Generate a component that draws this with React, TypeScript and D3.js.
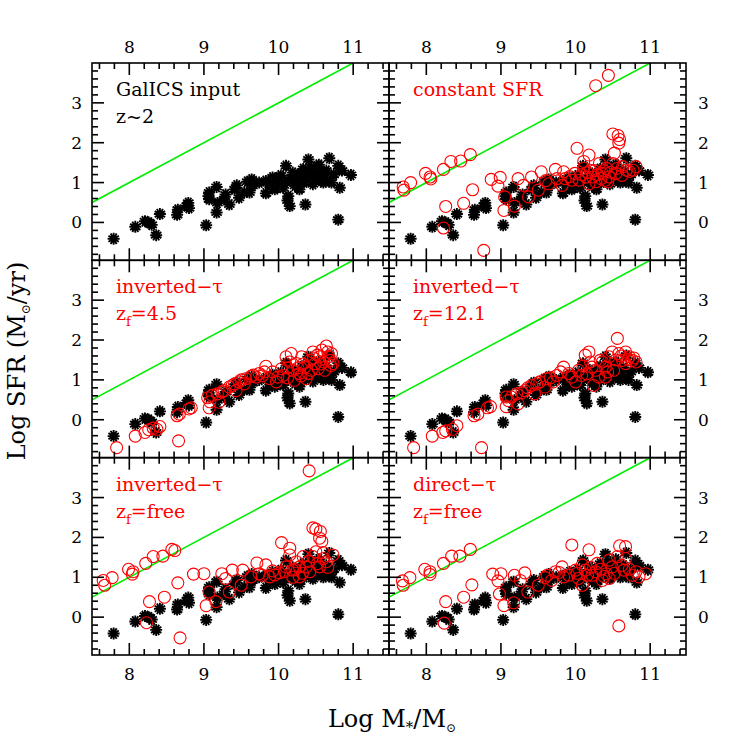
import React from 'react';
import * as d3 from 'd3';

// GalICS input (black asterisks), [log M*, log SFR]
const galicsInput: [number, number][] = [
  [7.79, -0.41], [8.08, -0.11], [8.21, 0.03], [8.26, 0.0], [8.30, -0.06], [8.36, -0.32],
  [8.41, 0.21], [8.64, 0.19], [8.65, 0.32], [8.79, 0.49], [8.80, 0.36], [8.77, 0.42],
  [9.03, -0.07], [9.06, 0.66], [9.07, 0.75], [9.17, 0.89], [9.18, 0.49], [9.17, 0.25],
  [9.29, 0.70], [9.34, 0.45], [9.41, 0.83], [9.44, 0.93], [9.47, 0.62], [9.61, 0.75],
  [9.64, 1.08], [9.74, 1.0], [9.83, 0.73], [9.83, 1.04], [9.95, 0.83], [9.99, 1.08],
  [10.06, 0.87], [10.10, 1.42], [10.13, 0.66], [10.15, 0.41], [10.15, 1.08], [10.19, 1.25],
  [10.22, 0.92], [10.28, 1.08], [10.33, 1.34], [10.36, 0.45], [10.40, 1.58], [10.42, 1.25],
  [10.46, 1.17], [10.51, 1.08], [10.60, 1.0], [10.64, 1.30], [10.68, 1.61], [10.71, 1.0],
  [10.80, 1.42], [10.80, 0.07], [10.82, 0.87], [10.85, 1.30], [10.97, 1.19], [10.01, 0.96],
  [10.24, 1.17], [10.38, 1.17], [10.56, 1.13], [9.92, 1.13], [9.65, 0.92], [9.54, 0.75],
  [9.27, 0.58], [9.07, 0.58], [10.28, 0.83], [10.46, 0.96], [10.08, 1.0], [10.60, 1.25],
  [10.12, 0.55], [10.20, 1.02], [10.34, 1.00], [10.44, 1.38], [10.52, 1.22], [10.66, 1.05],
  [10.74, 1.20], [9.88, 0.95], [9.58, 1.02], [10.03, 1.18], [10.30, 1.22], [10.54, 1.45],
];

const constantSFR: [number, number][] = [
  [7.69, 0.89], [7.70, 0.81], [7.79, 1.0], [7.99, 1.23], [8.05, 1.14], [8.06, 1.09],
  [8.23, 1.33], [8.33, 1.53], [8.46, 1.54], [8.59, 1.70], [8.26, 0.40], [8.23, -0.14],
  [8.50, 0.48], [8.62, 0.82], [8.77, -0.70], [8.87, 1.08], [8.99, 1.13], [8.96, 0.91],
  [9.05, 0.64], [9.04, 0.30], [9.18, 0.41], [9.23, 1.10], [9.30, 0.93], [9.37, 0.64],
  [9.41, 1.14], [9.50, 0.81], [9.54, 1.27], [9.64, 0.97], [9.73, 1.33], [9.75, 1.10],
  [9.84, 1.27], [9.82, 0.93], [9.95, 1.06], [10.02, 1.86], [9.99, 1.23], [10.11, 1.53],
  [10.11, 1.36], [10.18, 1.69], [10.14, 1.14], [10.20, 1.31], [10.27, 3.43], [10.44, 3.69],
  [10.27, 1.02], [10.32, 1.48], [10.36, 1.23], [10.41, 1.36], [10.43, 1.02], [10.50, 2.22],
  [10.57, 2.18], [10.58, 1.99], [10.59, 2.08], [10.52, 1.74], [10.50, 1.48], [10.54, 1.23],
  [10.63, 1.40], [10.77, 1.31], [10.81, 1.40], [10.23, 1.14], [10.34, 1.10], [10.05, 1.06],
  [10.45, 1.14], [10.68, 1.31], [10.18, 0.97], [9.86, 1.10],
  [10.08, 1.20], [10.16, 1.25], [10.25, 1.30], [10.30, 1.20], [10.38, 1.30], [10.47, 1.26],
  [10.56, 1.36], [10.62, 1.18], [10.72, 1.28], [9.92, 1.15], [9.60, 1.05], [10.40, 1.06],
];

const invTau45: [number, number][] = [
  [7.83, -0.70], [8.08, -0.41], [8.21, -0.32], [8.26, -0.25], [8.32, -0.21], [8.41, -0.17],
  [8.37, -0.24], [8.66, -0.53], [8.64, 0.10], [8.67, 0.14], [8.80, 0.27], [8.83, 0.30],
  [9.05, 0.55], [9.07, 0.30], [9.20, 0.44], [9.18, 0.65], [9.27, 0.73], [9.34, 0.82],
  [9.41, 0.90], [9.47, 0.95], [9.56, 1.03], [9.63, 1.09], [9.70, 1.07], [9.74, 1.16],
  [9.83, 1.34], [9.81, 1.20], [9.88, 1.03], [9.97, 0.95], [9.99, 1.07], [10.04, 1.28],
  [10.10, 1.58], [10.15, 1.45], [10.17, 1.66], [10.19, 1.24], [10.21, 0.99], [10.24, 1.41],
  [10.28, 1.16], [10.31, 1.58], [10.35, 1.32], [10.37, 1.03], [10.42, 1.49], [10.44, 1.24],
  [10.46, 1.70], [10.49, 1.41], [10.53, 1.28], [10.55, 1.58], [10.58, 1.75], [10.60, 1.45],
  [10.62, 1.24], [10.64, 1.85], [10.67, 1.58], [10.69, 1.49], [10.71, 1.66], [10.73, 1.41],
  [10.40, 1.16], [10.06, 1.11], [9.92, 1.20], [9.54, 0.90], [9.43, 0.73], [9.11, 0.61],
  [9.08, 0.45], [9.24, 0.70], [9.38, 0.86], [9.50, 1.00], [9.66, 1.12], [9.78, 1.10],
  [10.12, 1.30], [10.26, 1.30], [10.33, 1.40], [10.47, 1.55], [10.52, 1.62], [10.57, 1.40],
  [10.66, 1.70], [10.70, 1.36], [10.12, 1.05], [10.30, 1.10],
];

const invTau121: [number, number][] = [
  [7.83, -0.70], [8.08, -0.41], [8.22, -0.32], [8.26, -0.28], [8.35, -0.24], [8.41, -0.15],
  [8.74, -0.70], [8.64, 0.10], [8.69, 0.14], [8.82, 0.30], [8.86, 0.33], [9.07, 0.33],
  [9.07, 0.57], [9.23, 0.40], [9.21, 0.65], [9.32, 0.73], [9.41, 0.86], [9.45, 0.65],
  [9.52, 0.95], [9.61, 1.03], [9.70, 0.95], [9.75, 1.11], [9.84, 1.32], [9.91, 1.16],
  [10.0, 0.95], [10.04, 1.24], [10.13, 1.62], [10.18, 1.70], [10.22, 1.32], [10.24, 0.86],
  [10.31, 1.07], [10.33, 1.49], [10.40, 1.32], [10.45, 1.58], [10.49, 1.70], [10.51, 1.24],
  [10.56, 2.04], [10.58, 1.66], [10.63, 1.49], [10.67, 1.41], [10.72, 1.58], [10.76, 1.49],
  [10.81, 1.45], [10.40, 1.07], [10.08, 1.11], [9.95, 1.07], [9.59, 0.82], [9.14, 0.57],
  [10.27, 1.24], [10.67, 1.70],
  [9.10, 0.48], [9.28, 0.68], [9.36, 0.80], [9.48, 0.90], [9.66, 1.05], [9.80, 1.20],
  [10.10, 1.35], [10.20, 1.45], [10.36, 1.45], [10.43, 1.20], [10.54, 1.50], [10.61, 1.60],
  [10.70, 1.52], [10.78, 1.55], [10.15, 1.15],
];

const invTauFree: [number, number][] = [
  [7.65, 0.92], [7.67, 0.80], [7.77, 0.99], [7.99, 1.20], [8.05, 1.14], [8.04, 1.08],
  [8.22, 1.35], [8.32, 1.52], [8.45, 1.53], [8.57, 1.70], [8.61, 1.67], [8.27, 0.39],
  [8.23, -0.14], [8.47, 0.50], [8.65, 0.86], [8.68, -0.52], [8.86, 1.08], [9.0, 1.09],
  [9.03, 0.29], [9.07, 0.63], [9.16, 0.39], [9.24, 1.09], [9.29, 0.97], [9.34, 0.63],
  [9.38, 1.18], [9.50, 0.80], [9.52, 1.18], [9.63, 1.01], [9.71, 1.36], [9.74, 1.09],
  [9.83, 1.31], [9.95, 1.06], [10.01, 1.11], [10.04, 1.87], [10.10, 1.26], [10.15, 1.56],
  [10.15, 1.73], [10.19, 1.18], [10.24, 1.39], [10.28, 1.01], [10.33, 1.52], [10.37, 1.26],
  [10.46, 2.24], [10.50, 2.21], [10.56, 2.15], [10.55, 1.98], [10.58, 1.90], [10.46, 1.52],
  [10.50, 1.64], [10.60, 1.47], [10.55, 1.26], [10.73, 1.56], [10.42, 1.14], [10.19, 1.0],
  [9.88, 1.01], [10.28, 1.26], [10.64, 1.39], [10.41, 3.67],
  [10.08, 1.14], [10.22, 1.20], [10.32, 1.10], [10.40, 1.40], [10.52, 1.34], [10.60, 1.62],
  [10.66, 1.25], [9.92, 1.16], [9.78, 1.05],
];

const dirTauFree: [number, number][] = [
  [7.68, 0.91], [7.69, 0.80], [7.78, 0.99], [7.98, 1.20], [8.05, 1.14], [8.05, 1.07],
  [8.23, 1.35], [8.34, 1.53], [8.45, 1.53], [8.59, 1.70], [8.26, 0.39], [8.24, -0.15],
  [8.50, 0.50], [8.61, 0.81], [8.89, 1.08], [9.0, 1.09], [8.96, 0.91], [8.98, 0.58],
  [9.04, 0.29], [9.17, 0.36], [9.18, 1.05], [9.26, 0.92], [9.32, 1.11], [9.36, 0.63],
  [9.50, 0.80], [9.59, 0.99], [9.68, 0.92], [9.73, 1.14], [9.82, 1.26], [9.84, 1.01],
  [9.95, 1.81], [10.0, 1.18], [10.04, 0.97], [10.13, 1.18], [10.18, 1.69], [10.22, 1.05],
  [10.29, 1.35], [10.36, 0.92], [10.45, 0.97], [10.49, 1.26], [10.56, 1.52], [10.58, -0.22],
  [10.59, 1.79], [10.67, 1.77], [10.67, 1.47], [10.65, 1.18], [10.76, 1.05], [10.85, 1.01],
  [10.94, 1.09], [10.09, 0.80], [10.27, 1.14], [10.41, 1.09], [9.91, 1.05], [10.09, 1.31],
  [10.45, 1.43], [10.81, 1.14],
  [10.16, 1.05], [10.20, 1.25], [10.33, 1.20], [10.38, 1.02], [10.52, 1.10], [10.62, 1.30],
  [10.72, 1.20], [9.62, 1.05], [9.78, 1.12], [10.02, 1.10],
];

const xTickLabels = [8, 9, 10, 11];
const yTickLabels = [0, 1, 2, 3];
const referenceLine: [number, number][] = [[7.0, 0.0], [11.0, 4.0]];

const X_DOMAIN: [number, number] = [7.5, 11.48];
const Y_DOMAIN: [number, number] = [-0.95, 4.0];

const COL_X = [92, 389];
const ROW_Y = [63, 260.3, 457.7];
const PW = 297;
const PH = 197.3;
const FONT = '"DejaVu Serif", serif';
const RED = '#ff0000';

type Label = { main: string; sub?: string; rest?: string };
type Panel = { col: number; row: number; line1: Label; line2?: Label; color: string; red?: [number, number][] };

const panels: Panel[] = [
  { col: 0, row: 0, line1: { main: 'GalICS input' }, line2: { main: 'z~2' }, color: '#000' },
  { col: 1, row: 0, line1: { main: 'constant SFR' }, color: RED, red: constantSFR },
  { col: 0, row: 1, line1: { main: 'inverted\u2212\u03c4' }, line2: { main: 'z', sub: 'f', rest: '=4.5' }, color: RED, red: invTau45 },
  { col: 1, row: 1, line1: { main: 'inverted\u2212\u03c4' }, line2: { main: 'z', sub: 'f', rest: '=12.1' }, color: RED, red: invTau121 },
  { col: 0, row: 2, line1: { main: 'inverted\u2212\u03c4' }, line2: { main: 'z', sub: 'f', rest: '=free' }, color: RED, red: invTauFree },
  { col: 1, row: 2, line1: { main: 'direct\u2212\u03c4' }, line2: { main: 'z', sub: 'f', rest: '=free' }, color: RED, red: dirTauFree },
];

function asteriskPath(r: number): string {
  let d = '';
  for (let i = 0; i < 6; i++) {
    const a = (Math.PI * i) / 6 + Math.PI / 2;
    const dx = r * Math.cos(a);
    const dy = r * Math.sin(a);
    d += `M${(-dx).toFixed(2)},${(-dy).toFixed(2)}L${dx.toFixed(2)},${dy.toFixed(2)}`;
  }
  return d;
}
const STAR = asteriskPath(6);

function LabelText({ x, y, l, color }: { x: number; y: number; l: Label; color: string }) {
  return (
    <text x={x} y={y} fill={color} fontFamily={FONT} fontSize={19}>
      <tspan>{l.main}</tspan>
      {l.sub && (
        <tspan dy={6} fontSize={13}>{l.sub}</tspan>
      )}
      {l.rest && <tspan dy={-6}>{l.rest}</tspan>}
    </text>
  );
}

function PanelView({ p, idx }: { p: Panel; idx: number }) {
  const x0 = COL_X[p.col];
  const y0 = ROW_Y[p.row];
  const x = d3.scaleLinear().domain(X_DOMAIN).range([x0, x0 + PW]);
  const y = d3.scaleLinear().domain(Y_DOMAIN).range([y0 + PH, y0]);
  const line = d3.line<[number, number]>().x((d) => x(d[0])).y((d) => y(d[1]));

  const xMinor = d3.range(38, 58).map((i) => i / 5).filter((v) => v > X_DOMAIN[0] && v < X_DOMAIN[1]);
  const yMinor = d3.range(-4, 20).map((i) => i / 5).filter((v) => v > Y_DOMAIN[0] && v < Y_DOMAIN[1]);
  const clipId = `clip${idx}`;
  const sw = 1.6;
  const ticks: JSX.Element[] = [];
  xMinor.forEach((v, i) => {
    const major = Math.abs(v - Math.round(v)) < 1e-6;
    const len = major ? 12 : 6;
    const px = x(v);
    ticks.push(<line key={`xb${i}`} x1={px} x2={px} y1={y0 + PH} y2={y0 + PH - len} />);
    ticks.push(<line key={`xt${i}`} x1={px} x2={px} y1={y0} y2={y0 + len} />);
  });
  yMinor.forEach((v, i) => {
    const major = Math.abs(v - Math.round(v)) < 1e-6;
    const len = major ? 12 : 6;
    const py = y(v);
    ticks.push(<line key={`yl${i}`} x1={x0} x2={x0 + len} y1={py} y2={py} />);
    ticks.push(<line key={`yr${i}`} x1={x0 + PW} x2={x0 + PW - len} y1={py} y2={py} />);
  });

  return (
    <g>
      <defs>
        <clipPath id={clipId}>
          <rect x={x0} y={y0} width={PW} height={PH} />
        </clipPath>
      </defs>
      <g clipPath={`url(#${clipId})`}>
        <path d={line(referenceLine) || ''} stroke="#00ee00" strokeWidth={1.6} fill="none" />
        {galicsInput.map((d, i) => (
          <path key={`s${i}`} d={STAR} transform={`translate(${x(d[0])},${y(d[1])})`} stroke="#000" strokeWidth={1.9} fill="none" />
        ))}
        {p.red && p.red.map((d, i) => (
          <circle key={`c${i}`} cx={x(d[0])} cy={y(d[1])} r={6} stroke={RED} strokeWidth={1.1} fill="none" />
        ))}
      </g>
      <g stroke="#000" strokeWidth={sw}>{ticks}</g>
      <rect x={x0} y={y0} width={PW} height={PH} fill="none" stroke="#000" strokeWidth={sw} />
      <LabelText x={x0 + 24} y={y0 + 33} l={p.line1} color={p.color} />
      {p.line2 && <LabelText x={x0 + 24} y={y0 + 60} l={p.line2} color={p.color} />}
      {p.row === 0 && xTickLabels.map((v) => (
        <text key={`tl${v}`} x={x(v)} y={53} textAnchor="middle" fontFamily={FONT} fontSize={17}>{v}</text>
      ))}
      {p.row === 2 && xTickLabels.map((v) => (
        <text key={`bl${v}`} x={x(v)} y={680} textAnchor="middle" fontFamily={FONT} fontSize={17}>{v}</text>
      ))}
      {p.col === 0 && yTickLabels.map((v) => (
        <text key={`ll${v}`} x={82} y={y(v) + 6} textAnchor="end" fontFamily={FONT} fontSize={17}>{v}</text>
      ))}
      {p.col === 1 && yTickLabels.map((v) => (
        <text key={`rl${v}`} x={698} y={y(v) + 6} textAnchor="start" fontFamily={FONT} fontSize={17}>{v}</text>
      ))}
    </g>
  );
}

export default function App() {
  return (
    <svg width={747} height={747} style={{ position: 'absolute', left: 0, top: 0, background: '#fff' }}>
      <rect width={747} height={747} fill="#fff" />
      {panels.map((p, i) => (
        <PanelView key={i} p={p} idx={i} />
      ))}
      <text x={392} y={727} textAnchor="middle" fontFamily={FONT} fontSize={24}>
        <tspan>Log M</tspan>
        <tspan dy={5} fontSize={15}>*</tspan>
        <tspan dy={-5}>/M</tspan>
        <tspan dy={5} fontSize={12}>{'\u2299'}</tspan>
      </text>
      <text transform="translate(25,361) rotate(-90)" textAnchor="middle" fontFamily={FONT} fontSize={24}>
        <tspan>Log SFR (M</tspan>
        <tspan dy={5} fontSize={12}>{'\u2299'}</tspan>
        <tspan dy={-5}>/yr)</tspan>
      </text>
    </svg>
  );
}
